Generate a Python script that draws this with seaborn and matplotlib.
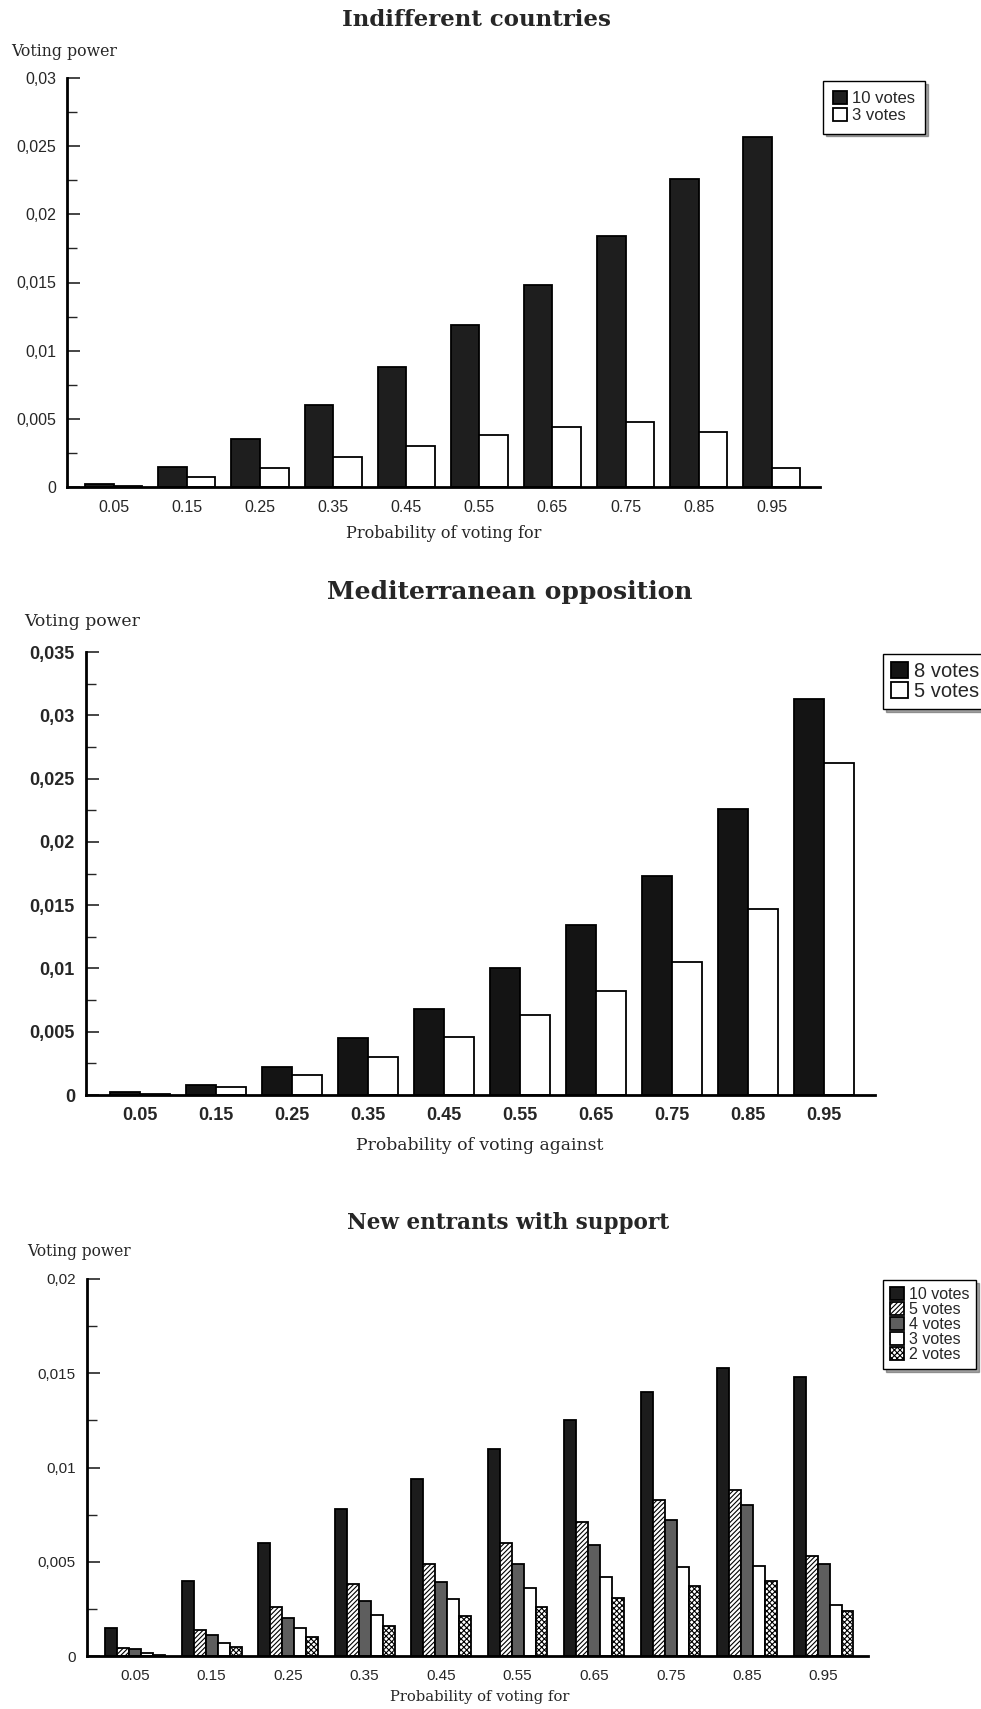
import numpy as np
import pandas as pd
import matplotlib
matplotlib.use('Agg')
import matplotlib.pyplot as plt
from matplotlib.ticker import MultipleLocator
import seaborn as sns

# data
probs = ['0.05', '0.15', '0.25', '0.35', '0.45', '0.55', '0.65', '0.75', '0.85', '0.95']

indiff_labels = ['10 votes', '3 votes']
indiff_10 = [0.0002, 0.0015, 0.0035, 0.0060, 0.0088, 0.0119, 0.0148, 0.0184, 0.0226, 0.0257]
indiff_3 = [0.0001, 0.0007, 0.0014, 0.0022, 0.0030, 0.0038, 0.0044, 0.0048, 0.0040, 0.0014]

med_labels = ['8 votes', '5 votes']
med_8 = [0.0002, 0.0008, 0.0022, 0.0045, 0.0068, 0.0100, 0.0134, 0.0173, 0.0226, 0.0313]
med_5 = [0.0001, 0.0006, 0.0016, 0.0030, 0.0046, 0.0063, 0.0082, 0.0105, 0.0147, 0.0262]

new_labels = ['10 votes', '5 votes', '4 votes', '3 votes', '2 votes']
new_10 = [0.0015, 0.0040, 0.0060, 0.0078, 0.0094, 0.0110, 0.0125, 0.0140, 0.0153, 0.0148]
new_5 = [0.0004, 0.0014, 0.0026, 0.0038, 0.0049, 0.0060, 0.0071, 0.0083, 0.0088, 0.0053]
new_4 = [0.00035, 0.0011, 0.0020, 0.0029, 0.0039, 0.0049, 0.0059, 0.0072, 0.0080, 0.0049]
new_3 = [0.00014, 0.0007, 0.0015, 0.0022, 0.0030, 0.0036, 0.0042, 0.0047, 0.0048, 0.0027]
new_2 = [0.00005, 0.0005, 0.0010, 0.0016, 0.0021, 0.0026, 0.0031, 0.0037, 0.0040, 0.0024]

yt_indiff = [0, 0.005, 0.01, 0.015, 0.02, 0.025, 0.03]
ytl_indiff = ['0', '0,005', '0,01', '0,015', '0,02', '0,025', '0,03']
yt_med = [0, 0.005, 0.01, 0.015, 0.02, 0.025, 0.03, 0.035]
ytl_med = ['0', '0,005', '0,01', '0,015', '0,02', '0,025', '0,03', '0,035']
yt_new = [0, 0.005, 0.01, 0.015, 0.02]
ytl_new = ['0', '0,005', '0,01', '0,015', '0,02']

sns.set_style('white')
plt.rcParams['font.family'] = ['Liberation Sans', 'DejaVu Sans']
plt.rcParams['hatch.linewidth'] = 0.8

W, H = 981, 1709
fig = plt.figure(figsize=(W / 100, H / 100), dpi=100)


def box(l, r, t, b):
    return [l / W, 1 - b / H, (r - l) / W, (b - t) / H]


def draw(ax, labels, series, colors, hatches, width, ymax, yt, ytl, xlim, tick_bold, tick_size):
    rows = []
    for lab, vals in zip(labels, series):
        for p, v in zip(probs, vals):
            rows.append((p, v, lab))
    df = pd.DataFrame(rows, columns=['prob', 'power', 'votes'])
    sns.barplot(data=df, x='prob', y='power', hue='votes', hue_order=labels,
                palette=dict(zip(labels, colors)), width=width, saturation=1,
                edgecolor='black', linewidth=1.3, errorbar=None, legend=False, ax=ax)
    for cont, h in zip(ax.containers, hatches):
        for bar in cont:
            bar.set_hatch(h)
    ax.set_ylim(0, ymax)
    ax.set_xlim(*xlim)
    ax.set_yticks(yt)
    ax.set_yticklabels(ytl)
    ax.yaxis.set_minor_locator(MultipleLocator(yt[1] / 2))
    ax.set_xticks([0], minor=True)
    ax.tick_params(axis='y', which='major', direction='in', length=9, width=1.2, left=True,
                   labelsize=tick_size, pad=8)
    ax.tick_params(axis='y', which='minor', direction='in', length=7, width=1, left=True)
    ax.tick_params(axis='x', which='major', length=0, labelsize=tick_size, pad=9)
    ax.tick_params(axis='x', which='minor', direction='in', length=9, width=1, bottom=True)
    weight = 'bold' if tick_bold else 'normal'
    for t in ax.get_xticklabels() + ax.get_yticklabels():
        t.set_fontweight(weight)
    sns.despine(ax=ax)
    for s in ['left', 'bottom']:
        ax.spines[s].set_linewidth(2)
        ax.spines[s].set_color('black')
    ax.set_xlabel('')
    ax.set_ylabel('')
    return ax


def add_legend(ax, labels, x, y, size, pad, spacing):
    ax.legend(ax.containers, labels, loc='upper left', bbox_to_anchor=(x / W, 1 - y / H),
              bbox_transform=fig.transFigure, frameon=True, fancybox=False, shadow=True,
              edgecolor='black', framealpha=1, fontsize=size, handlelength=0.85,
              handleheight=0.85, handletextpad=0.3, borderpad=pad, labelspacing=spacing,
              borderaxespad=0)


serif = ['DejaVu Serif']

# Chart 1
ax1 = fig.add_axes(box(67, 820, 78, 487))
draw(ax1, indiff_labels, [indiff_10, indiff_3], ['#1e1e1e', 'white'], ['', ''],
     0.78, 0.03, yt_indiff, ytl_indiff, (-0.64, 9.66), False, 11.5)
add_legend(ax1, indiff_labels, 823, 81, 12, 0.6, 0.1)
fig.text(476 / W, 1 - 20 / H, 'Indifferent countries', family=serif, weight='bold',
         fontsize=16.5, ha='center', va='center')
fig.text(11 / W, 1 - 51 / H, 'Voting power', family=serif, fontsize=11.3, ha='left', va='center')
fig.text(444 / W, 1 - 534 / H, 'Probability of voting for', family=serif, fontsize=11.6,
         ha='center', va='center')

# Chart 2
ax2 = fig.add_axes(box(86, 875, 652, 1095))
draw(ax2, med_labels, [med_8, med_5], ['#141414', 'white'], ['', ''],
     0.8, 0.035, yt_med, ytl_med, (-0.71, 9.67), True, 13)
add_legend(ax2, med_labels, 883, 654, 14.5, 0.4, 0.05)
fig.text(510 / W, 1 - 592 / H, 'Mediterranean opposition', family=serif, weight='bold',
         fontsize=18, ha='center', va='center')
fig.text(24 / W, 1 - 621 / H, 'Voting power', family=serif, fontsize=12.4, ha='left', va='center')
fig.text(480 / W, 1 - 1146 / H, 'Probability of voting against', family=serif, fontsize=12.4,
         ha='center', va='center')

# Chart 3
ax3 = fig.add_axes(box(87, 868, 1279, 1656))
draw(ax3, new_labels, [new_10, new_5, new_4, new_3, new_2],
     ['#1c1c1c', 'white', '#5e5e5e', 'white', 'white'], ['', '///////', '', '', 'xxxxxx'],
     0.78, 0.02, yt_new, ytl_new, (-0.63, 9.58), False, 11)
add_legend(ax3, new_labels, 883, 1280, 11.5, 0.45, 0.0)
fig.text(508 / W, 1 - 1223 / H, 'New entrants with support', family=serif, weight='bold',
         fontsize=15.5, ha='center', va='center')
fig.text(27 / W, 1 - 1251 / H, 'Voting power', family=serif, fontsize=11.2, ha='left', va='center')
fig.text(480 / W, 1 - 1697 / H, 'Probability of voting for', family=serif, fontsize=10.6,
         ha='center', va='center')

fig.savefig('out.png', dpi=100)
